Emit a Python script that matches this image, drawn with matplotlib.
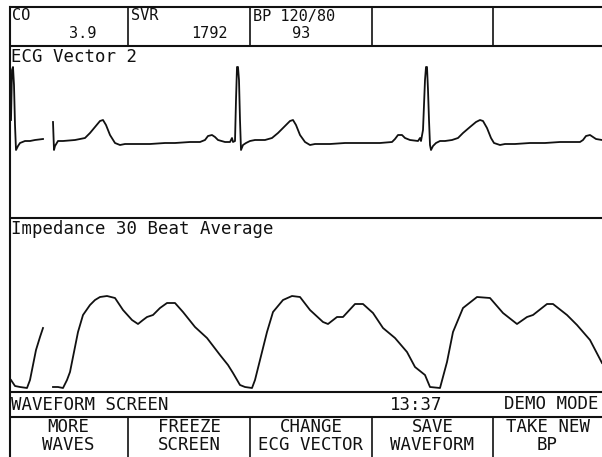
import matplotlib
matplotlib.use("Agg")
import matplotlib.pyplot as plt

# ECG trace (x = screen sample, amplitude above baseline), drawn in two sweeps
ecg_x_a = [11, 12, 13, 14, 15, 16, 18, 20, 25, 30, 35, 43]
ecg_y_a = [22, 72, 75, 57, 17, -8, -4, -1, 1, 1, 2, 3]
ecg_x_b = [53, 54, 55, 58, 63, 75, 85, 90, 95, 100, 103, 106, 110, 115, 120, 125,
           135, 150, 165, 175, 190, 200, 205, 208, 212, 215, 218, 225, 230, 232,
           233, 235, 236, 237, 238, 239, 240, 241, 243, 246, 250, 255, 265, 272,
           278, 285, 290, 293, 296, 300, 305, 310, 315, 330, 345, 360, 380, 392,
           395, 398, 402, 405, 410, 418, 420, 421, 423, 425, 426, 427, 428, 429,
           430, 431, 433, 436, 440, 445, 452, 458, 463, 470, 476, 480, 483, 487,
           491, 494, 500, 505, 515, 530, 545, 560, 580, 583, 586, 590, 593, 596, 602]
ecg_y_b = [20, -8, -4, 1, 1, 2, 4, 9, 15, 21, 22, 17, 7, -1, -3, -2,
           -2, -2, -1, -1, 0, 0, 2, 6, 7, 5, 2, 0, 0, 4,
           0, 1, 42, 75, 75, 62, 22, -8, -3, -1, 1, 2, 2, 4,
           9, 16, 21, 22, 17, 7, 0, -3, -2, -2, -1, -1, -1, 0,
           3, 7, 7, 4, 2, 1, 4, 1, 12, 62, 75, 75, 52, 22,
           -3, -8, -4, -1, 1, 1, 2, 4, 9, 15, 20, 22, 21, 14,
           4, -1, -3, -2, -2, -1, -1, 0, 0, 2, 6, 7, 5, 3, 2]

# impedance 30 beat average
imp_x_a = [11, 15, 20, 27, 30, 33, 36, 40, 43]
imp_y_a = [12, 6, 5, 4, 12, 27, 42, 55, 64]
imp_x_b = [53, 58, 63, 67, 70, 74, 78, 83, 90, 95, 100, 107, 115, 123, 132, 138,
           143, 147, 153, 160, 167, 175, 183, 195, 207, 220, 228, 233, 240, 245,
           252, 255, 258, 263, 267, 273, 283, 292, 300, 310, 323, 328, 337, 343,
           355, 363, 373, 383, 395, 407, 415, 425, 430, 440, 447, 453, 463, 477,
           490, 503, 517, 527, 533, 547, 553, 567, 577, 590, 602]
imp_y_b = [5, 5, 4, 12, 20, 40, 60, 77, 87, 92, 95, 96, 94, 82, 72, 68,
           72, 75, 77, 84, 89, 89, 80, 65, 54, 37, 27, 19, 7, 5,
           4, 12, 24, 44, 60, 80, 92, 96, 95, 82, 70, 68, 75, 75,
           88, 88, 79, 64, 54, 40, 25, 17, 5, 4, 30, 60, 84, 95,
           94, 79, 68, 75, 77, 88, 88, 77, 67, 52, 29]

top_labels = ["CO", "SVR", "BP 120/80", "", ""]
top_values = ["3.9", "1792", "93", "", ""]
status_left = "WAVEFORM SCREEN"
status_time = "13:37"
status_mode = "DEMO MODE"
buttons = ["MORE\nWAVES", "FREEZE\nSCREEN", "CHANGE\nECG VECTOR", "SAVE\nWAVEFORM", "TAKE NEW\nBP"]

W, H = 602, 457
ink = "#111111"
mono = "DejaVu Sans Mono"

fig = plt.figure(figsize=(W / 100, H / 100), dpi=100)
fig.patch.set_facecolor("white")

# screen frame in pixel coordinates
ax = fig.add_axes([0, 0, 1, 1])
ax.set_xlim(0, W)
ax.set_ylim(H, 0)
ax.axis("off")

cells = [9, 128, 250, 372, 493, W]
for yy in [7, 46, 218, 392, 417]:
    ax.plot([9, W], [yy, yy], color=ink, lw=1.5, solid_capstyle="butt")
ax.plot([9.5, 9.5], [7, H], color=ink, lw=1.5)
for xx in cells[1:-1]:
    ax.plot([xx, xx], [7, 46], color=ink, lw=1.2)
    ax.plot([xx, xx], [417, H], color=ink, lw=1.2)

# top parameter boxes
for i in range(3):
    ax.text(cells[i] + 3, 16, top_labels[i], family=mono, fontsize=11,
            va="center", ha="left", color=ink)
ax.text(96, 33, top_values[0], family=mono, fontsize=11, va="center", ha="right", color=ink)
ax.text(228, 33, top_values[1], family=mono, fontsize=11, va="center", ha="right", color=ink)
ax.text(301, 33, top_values[2], family=mono, fontsize=11, va="center", ha="center", color=ink)

ax.text(11, 57, "ECG Vector 2", family=mono, fontsize=12.5, va="center", ha="left", color=ink)
ax.text(11, 229, "Impedance 30 Beat Average", family=mono, fontsize=12.5,
        va="center", ha="left", color=ink)

# status line
ax.text(11, 405, status_left, family=mono, fontsize=12.5, va="center", ha="left", color=ink)
ax.text(416, 405, status_time, family=mono, fontsize=12.5, va="center", ha="center", color=ink)
ax.text(598, 404, status_mode, family=mono, fontsize=12.5, va="center", ha="right", color=ink)

# soft keys
for i, lab in enumerate(buttons):
    cx = (cells[i] + cells[i + 1]) / 2
    ax.text(cx, 436, lab, family=mono, fontsize=12.5, va="center", ha="center",
            color=ink, linespacing=0.95)

# ECG panel
ax_ecg = fig.add_axes([0, 1 - 218 / H, 1, 172 / H])
ax_ecg.set_xlim(0, W)
ax_ecg.set_ylim(-76, 96)
ax_ecg.axis("off")
ax_ecg.plot(ecg_x_a, ecg_y_a, color=ink, lw=1.3)
ax_ecg.plot(ecg_x_b, ecg_y_b, color=ink, lw=1.3)

# impedance panel
ax_imp = fig.add_axes([0, 1 - 392 / H, 1, 174 / H])
ax_imp.set_xlim(0, W)
ax_imp.set_ylim(0, 174)
ax_imp.axis("off")
ax_imp.plot(imp_x_a, imp_y_a, color=ink, lw=1.3)
ax_imp.plot(imp_x_b, imp_y_b, color=ink, lw=1.3)

fig.savefig("out.png", dpi=100, facecolor="white")
